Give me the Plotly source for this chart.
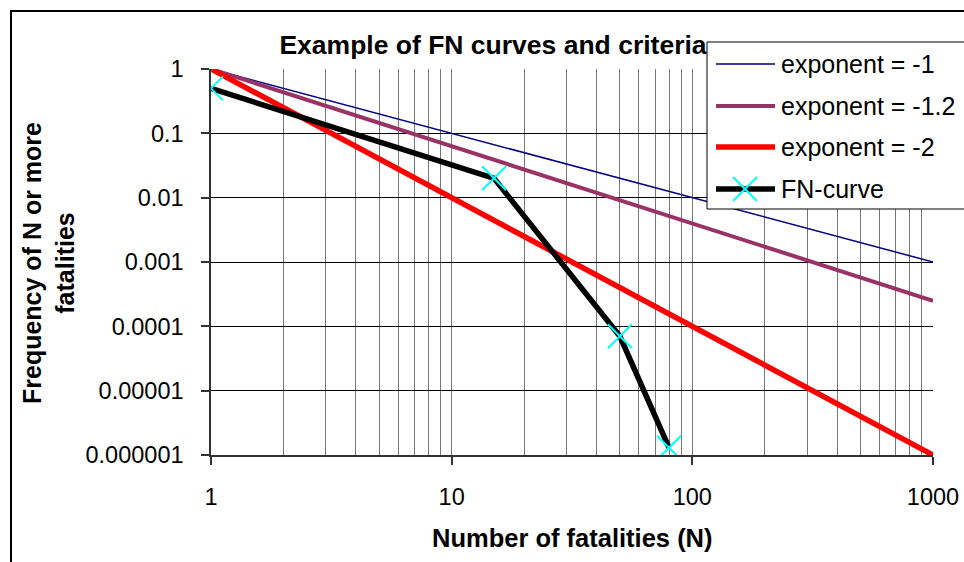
import plotly.graph_objects as go

# ---- data -------------------------------------------------------------
n_range = [1, 1000]
crit_exp_1 = [1, 0.001]        # F = N^-1
crit_exp_12 = [1, 0.00025]     # F = N^-1.2
crit_exp_2 = [1, 0.000001]     # F = N^-2

fn_n = [1, 15, 50, 80]
fn_f = [0.5, 0.02, 0.00007, 0.0000013]

series_names = ["exponent = -1", "exponent = -1.2", "exponent = -2", "FN-curve"]
series_colors = ["#000080", "#993366", "#FF0000", "#000000"]
series_widths = [1.5, 4, 5.5, 5.5]

x_tick_vals = [1, 10, 100, 1000]
x_tick_text = ["1", "10", "100", "1000"]
y_tick_vals = [1, 0.1, 0.01, 0.001, 0.0001, 0.00001, 0.000001]
y_tick_text = ["1", "0.1", "0.01", "0.001", "0.0001", "0.00001", "0.000001"]

# ---- geometry ---------------------------------------------------------
W, H = 964, 562
L, R, T, B = 211, 31, 69, 107
PW, PH = W - L - R, H - T - B
FONT = "Liberation Sans, Arial, sans-serif"


def px(x):
    return (x - L) / PW


def py(y):
    return (H - B - y) / PH


fig = go.Figure()

crit_series = [crit_exp_1, crit_exp_12, crit_exp_2]
for i, ys in enumerate(crit_series):
    fig.add_trace(go.Scatter(
        x=n_range, y=ys, mode="lines", name=series_names[i],
        line=dict(color=series_colors[i], width=series_widths[i]),
        showlegend=False,
    ))

fig.add_trace(go.Scatter(
    x=fn_n, y=fn_f, mode="lines+markers", name=series_names[3],
    line=dict(color=series_colors[3], width=series_widths[3]),
    marker=dict(symbol="x-thin", size=24, color="#00FFFF",
                line=dict(color="#00FFFF", width=2)),
    showlegend=False,
))

# ---- frame and legend box --------------------------------------------
shapes = []
annotations = []

# outer chart frame
shapes.append(dict(type="rect", xref="paper", yref="paper",
                   x0=px(11), x1=px(1010), y0=py(620), y1=py(11),
                   line=dict(color="black", width=2), layer="below"))

lg_left, lg_top, lg_bottom = 707, 42, 209
shapes.append(dict(type="rect", xref="paper", yref="paper",
                   x0=px(lg_left), x1=px(1010), y0=py(lg_bottom), y1=py(lg_top),
                   line=dict(color="black", width=1), fillcolor="white",
                   layer="above"))
row_y = [64, 106, 147, 189]
for i, name in enumerate(series_names):
    yy = row_y[i]
    shapes.append(dict(type="line", xref="paper", yref="paper",
                       x0=px(716), x1=px(775), y0=py(yy), y1=py(yy),
                       line=dict(color=series_colors[i], width=series_widths[i]),
                       layer="above"))
    annotations.append(dict(text=name, xref="paper", yref="paper",
                            x=px(779), y=py(yy), xanchor="left", yanchor="middle",
                            showarrow=False, font=dict(family=FONT, size=25, color="black")))
# cross marker for the FN-curve entry
cx, cy, s = 745, 189, 12
for dy in (-s, s):
    shapes.append(dict(type="line", xref="paper", yref="paper",
                       x0=px(cx - s), x1=px(cx + s), y0=py(cy - dy), y1=py(cy + dy),
                       line=dict(color="#00FFFF", width=2), layer="above"))

# axis titles
annotations.append(dict(text="<b>Number of fatalities (N)</b>", xref="paper", yref="paper",
                        x=px(572), y=py(538), xanchor="center", yanchor="middle",
                        showarrow=False, font=dict(family=FONT, size=25.5, color="black")))
annotations.append(dict(text="<b>Frequency of N or more<br>fatalities</b>", xref="paper",
                        yref="paper", x=px(48), y=py(263), xanchor="center",
                        yanchor="middle", textangle=-90, showarrow=False,
                        font=dict(family=FONT, size=25, color="black")))

fig.update_layout(
    width=W, height=H,
    margin=dict(l=L, r=R, t=T, b=B, autoexpand=False),
    paper_bgcolor="white", plot_bgcolor="white",
    title=dict(text="<b>Example of FN curves and criteria</b>", x=493 / W, xanchor="center",
               y=1 - 45 / H, yanchor="middle", xref="container", yref="container",
               font=dict(family=FONT, size=26.5, color="black")),
    shapes=shapes, annotations=annotations,
    showlegend=False,
)

fig.update_xaxes(
    type="log", range=[0, 3],
    tickvals=x_tick_vals, ticktext=x_tick_text,
    tickfont=dict(family=FONT, size=23.5, color="black"),
    ticks="outside", ticklen=8, tickwidth=1.5, tickcolor="#333333",
    ticklabelstandoff=12,
    showgrid=True, gridcolor="#777777", gridwidth=1.2,
    minor=dict(dtick="D1", showgrid=True, gridcolor="#777777", gridwidth=1.2, ticks=""),
    showline=True, linecolor="#333333", linewidth=1.5,
    zeroline=False,
)
fig.update_yaxes(
    type="log", range=[-6, 0],
    tickvals=y_tick_vals, ticktext=y_tick_text,
    tickfont=dict(family=FONT, size=23.5, color="black"),
    ticks="outside", ticklen=8, tickwidth=1.5, tickcolor="#333333",
    ticklabelstandoff=13,
    showgrid=True, gridcolor="black", gridwidth=1,
    showline=True, linecolor="#333333", linewidth=1.5,
    zeroline=False,
)

fig.write_html("out.html")
